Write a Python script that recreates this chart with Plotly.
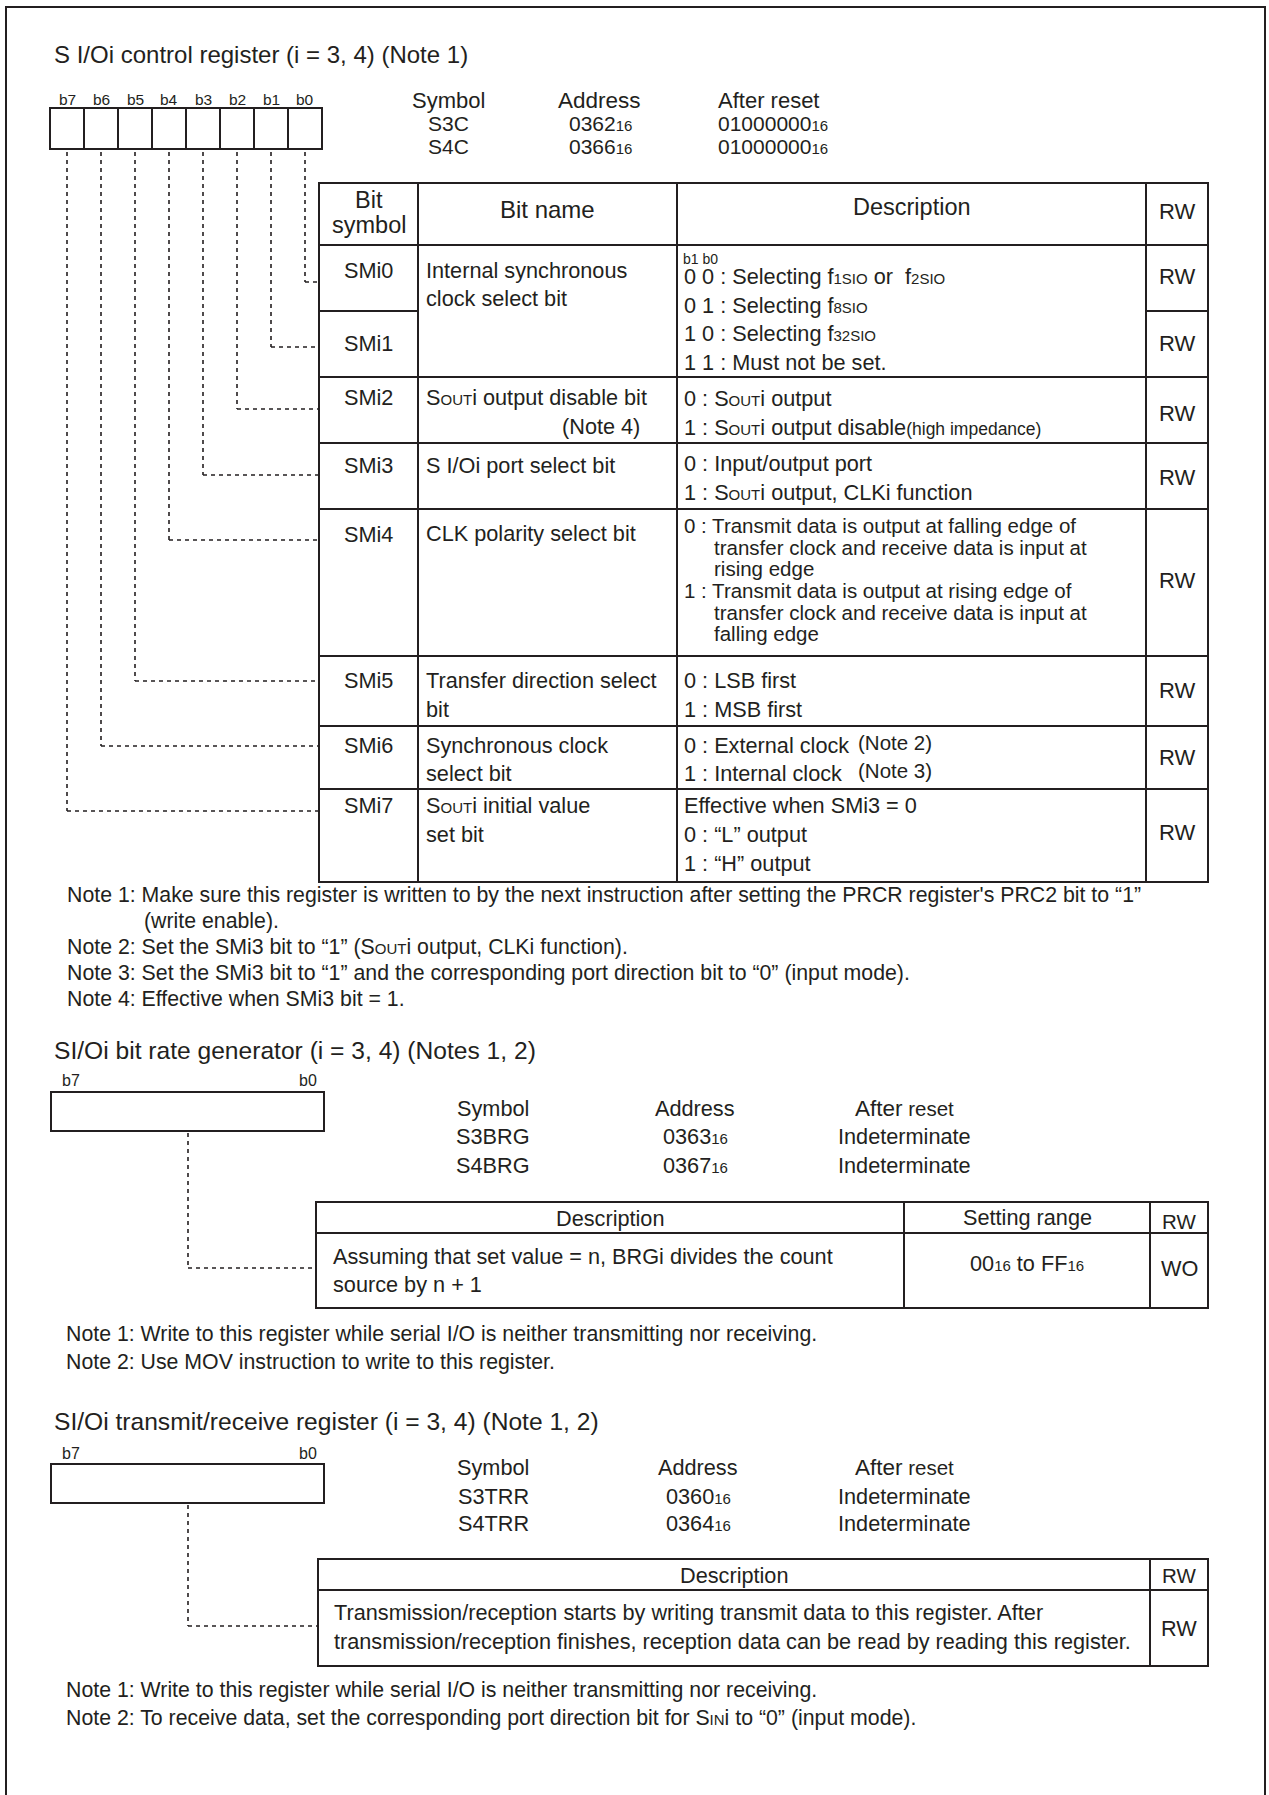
import plotly.graph_objects as go

# The figure fills the whole 1269x1795 page; data units equal page pixels.
PAGE_W, PAGE_H = 1269, 1795
FONT = "Liberation Sans, Arial, Helvetica, sans-serif"
INK = "#231f20"
BODY = 21.7
NOTE = 21.3


def small(t, s=15):
    return f'<span style="font-size:{s}px">{t}</span>'


SOUT = "S" + small("OUT") + "i"
SIN = "S" + small("IN") + "i"
H16 = small("16")

# ---------------- content (text data) ----------------
title1 = "S I/Oi control register (i = 3, 4) (Note 1)"
title2 = "SI/Oi bit rate generator (i = 3, 4) (Notes 1, 2)"
title3 = "SI/Oi transmit/receive register (i = 3, 4) (Note 1, 2)"

bit_labels = ["b7", "b6", "b5", "b4", "b3", "b2", "b1", "b0"]

reg1_symbols = ["S3C", "S4C"]
reg1_addresses = ["0362", "0366"]
reg1_resets = ["01000000", "01000000"]

reg2_symbols = ["S3BRG", "S4BRG"]
reg2_addresses = ["0363", "0367"]
reg2_resets = ["Indeterminate", "Indeterminate"]

reg3_symbols = ["S3TRR", "S4TRR"]
reg3_addresses = ["0360", "0364"]
reg3_resets = ["Indeterminate", "Indeterminate"]

bit_symbols = ["SMi0", "SMi1", "SMi2", "SMi3", "SMi4", "SMi5", "SMi6", "SMi7"]
rw_values = ["RW", "RW", "RW", "RW", "RW", "RW", "RW", "RW"]

bit_names = [
    ["Internal synchronous", "clock select bit"],
    [SOUT + " output disable bit"],
    ["S I/Oi port select bit"],
    ["CLK polarity select bit"],
    ["Transfer direction select", "bit"],
    ["Synchronous clock", "select bit"],
    [SOUT + " initial value", "set bit"],
]

desc_smi01 = [
    "0 0 : Selecting f" + small("1SIO") + " or  f" + small("2SIO"),
    "0 1 : Selecting f" + small("8SIO"),
    "1 0 : Selecting f" + small("32SIO"),
    "1 1 : Must not be set.",
]
desc_smi2 = ["0 : " + SOUT + " output",
             "1 : " + SOUT + " output disable" + small("(high impedance)", 17.5)]
desc_smi3 = ["0 : Input/output port", "1 : " + SOUT + " output, CLKi function"]
desc_smi4 = [
    ("0 : Transmit data is output at falling edge of", 0),
    ("transfer clock and receive data is input at", 1),
    ("rising edge", 1),
    ("1 : Transmit data is output at rising edge of", 0),
    ("transfer clock and receive data is input at", 1),
    ("falling edge", 1),
]
desc_smi5 = ["0 : LSB first", "1 : MSB first"]
desc_smi6 = ["0 : External clock", "1 : Internal clock"]
desc_smi6_notes = ["(Note 2)", "(Note 3)"]
desc_smi7 = ["Effective when SMi3 = 0", "0 : \u201cL\u201d output", "1 : \u201cH\u201d output"]

notes1 = [
    ("Note 1: Make sure this register is written to by the next instruction after setting the PRCR register's PRC2 bit to \u201c1\u201d", 0),
    ("(write enable).", 1),
    ("Note 2: Set the SMi3 bit to \u201c1\u201d (" + SOUT + " output, CLKi function).", 0),
    ("Note 3: Set the SMi3 bit to \u201c1\u201d and the corresponding port direction bit to \u201c0\u201d (input mode).", 0),
    ("Note 4: Effective when SMi3 bit = 1.", 0),
]
brg_desc = ["Assuming that set value = n, BRGi divides the count", "source by n + 1"]
brg_range = "00" + H16 + " to FF" + H16
brg_rw = "WO"
notes2 = [
    "Note 1: Write to this register while serial I/O is neither transmitting nor receiving.",
    "Note 2: Use MOV instruction to write to this register.",
]
trr_desc = [
    "Transmission/reception starts by writing transmit data to this register. After",
    "transmission/reception finishes, reception data can be read by reading this register.",
]
trr_rw = "RW"
notes3 = [
    "Note 1: Write to this register while serial I/O is neither transmitting nor receiving.",
    "Note 2: To receive data, set the corresponding port direction bit for " + SIN + " to \u201c0\u201d (input mode).",
]

# ---------------- drawing helpers ----------------
shapes = []
annotations = []


def text(x, y, s, size=BODY, xa="left", ya="middle"):
    annotations.append(dict(x=x, y=y, text=s, showarrow=False, xanchor=xa, yanchor=ya,
                            xref="x", yref="y", borderpad=0,
                            font=dict(size=size, family=FONT, color=INK)))


def line(x0, y0, x1, y1, w=2, dash=None):
    ln = dict(color=INK, width=w)
    if dash:
        ln["dash"] = dash
    shapes.append(dict(type="line", x0=x0, y0=y0, x1=x1, y1=y1, xref="x", yref="y", line=ln))


def rect(x0, y0, x1, y1, w=2):
    shapes.append(dict(type="rect", x0=x0, y0=y0, x1=x1, y1=y1, xref="x", yref="y",
                       line=dict(color=INK, width=w), fillcolor="rgba(0,0,0,0)"))


DASH = "4px,4px"

# outer frame
rect(6, 7, 1265, 1805, 2)

# ================= Section 1 =================
text(53, 54, title1, 24)
for i, lab in enumerate(bit_labels):
    text(67 + 34 * i, 99, lab, 15.5, "center")
    rect(50 + 34 * i, 108, 84 + 34 * i, 149, 2)

text(448, 100, "Symbol", 22, "center")
text(599, 100, "Address", 22.5, "center")
text(717, 100, "After reset", 22, "left")
for k in range(2):
    yy = 123 + 23 * k
    text(448, yy, reg1_symbols[k], 21, "center")
    text(600, yy, reg1_addresses[k] + H16, 21, "center")
    text(717, yy, reg1_resets[k] + H16, 21, "left")

X1 = [319, 418, 677, 1146, 1208]
Y1 = [183, 245, 311, 377, 443, 509, 656, 726, 789, 882]
rect(X1[0], Y1[0], X1[-1], Y1[-1])
for x in X1[1:-1]:
    line(x, Y1[0], x, Y1[-1])
for k, y in enumerate(Y1[1:-1], start=1):
    if k == 2:
        line(X1[0], y, X1[1], y)
        line(X1[3], y, X1[4], y)
    else:
        line(X1[0], y, X1[-1], y)

# header
cx_sym = (X1[0] + X1[1]) / 2
text(cx_sym, 200, "Bit", 23.5, "center")
text(cx_sym, 225, "symbol", 23.5, "center")
text((X1[1] + X1[2]) / 2, 209, "Bit name", 24, "center")
text((X1[2] + X1[3]) / 2, 207, "Description", 23.5, "center")
cx_rw = (X1[3] + X1[4]) / 2
text(cx_rw, 211, "RW", 22, "center")

sym_y = [270, 343, 397, 465, 534, 680, 745, 805]
for s, y in zip(bit_symbols, sym_y):
    text(cx_sym, y, s, BODY, "center")

name_y = [[270, 298], [397], [465], [533], [680, 709], [745, 773], [805, 834]]
for lines, ys in zip(bit_names, name_y):
    for t, y in zip(lines, ys):
        text(425, y, t)
text(641, 426, "(Note 4)", BODY, "right")

DX = 683
text(DX - 1, 259, "b1 b0", 14)
for t, y in zip(desc_smi01, [276, 305, 333, 362]):
    text(DX, y, t)
for t, y in zip(desc_smi2, [398, 427]):
    text(DX, y, t)
for t, y in zip(desc_smi3, [463, 492]):
    text(DX, y, t)
for (t, ind), y in zip(desc_smi4, [525, 547, 568, 590, 612, 633]):
    text(DX + 30 * ind, y, t, 20.5)
for t, y in zip(desc_smi5, [680, 709]):
    text(DX, y, t)
for t, n, y in zip(desc_smi6, desc_smi6_notes, [745, 773]):
    text(DX, y, t)
    text(857, y - 3, n, 20.5)
for t, y in zip(desc_smi7, [805, 834, 863]):
    text(DX, y, t)

rw_y = [276, 343, 413, 477, 580, 690, 757, 832]
for r, y in zip(rw_values, rw_y):
    text(cx_rw, y, r, 22, "center")

# dashed connectors bit n -> SMin
conn_y = [282, 347, 409, 475, 540, 681, 746, 811]
for n, cy in enumerate(conn_y):
    x = 305 - 34 * n
    line(x, 152, x, cy, 1.6, DASH)
    line(x, cy, X1[0], cy, 1.6, DASH)

for (t, ind), y in zip(notes1, [895, 921, 947, 973, 999]):
    text(143 if ind else 66, y, t, NOTE)

# ================= Section 2 =================
text(53, 1050, title2, 24.6)
text(71, 1080, bit_labels[0], 16, "center")
text(308, 1080, bit_labels[-1], 16, "center")
rect(51, 1092, 324, 1131)

text(493, 1108, "Symbol", BODY, "center")
text(695, 1108, "Address", BODY, "center")
text(904, 1108, "After" + small(" reset", 20.5), 22.5, "center")
for k in range(2):
    yy = 1136 + 29 * k
    text(493, yy, reg2_symbols[k], BODY, "center")
    text(695, yy, reg2_addresses[k] + H16, BODY, "center")
    text(904, yy, reg2_resets[k], BODY, "center")

X2 = [316, 904, 1150, 1208]
Y2 = [1202, 1233, 1308]
rect(X2[0], Y2[0], X2[-1], Y2[-1])
for x in X2[1:-1]:
    line(x, Y2[0], x, Y2[-1])
line(X2[0], Y2[1], X2[-1], Y2[1])
text((X2[0] + X2[1]) / 2, 1218, "Description", BODY, "center")
text((X2[1] + X2[2]) / 2, 1217, "Setting range", BODY, "center")
text((X2[2] + X2[3]) / 2, 1221, "RW", 20.5, "center")
for t, y in zip(brg_desc, [1256, 1284]):
    text(332, y, t)
text((X2[1] + X2[2]) / 2, 1263, brg_range, BODY, "center")
text((X2[2] + X2[3]) / 2, 1268, brg_rw, BODY, "center")

line(188, 1133, 188, 1268, 1.6, DASH)
line(188, 1268, X2[0], 1268, 1.6, DASH)

for t, y in zip(notes2, [1334, 1362]):
    text(65, y, t, NOTE)

# ================= Section 3 =================
text(53, 1421, title3, 24.6)
text(71, 1453, bit_labels[0], 16, "center")
text(308, 1453, bit_labels[-1], 16, "center")
rect(51, 1464, 324, 1503)

text(493, 1467, "Symbol", BODY, "center")
text(698, 1467, "Address", BODY, "center")
text(904, 1467, "After" + small(" reset", 20.5), 22.5, "center")
for k in range(2):
    yy = 1496 + 27 * k
    text(493, yy, reg3_symbols[k], BODY, "center")
    text(698, yy, reg3_addresses[k] + H16, BODY, "center")
    text(904, yy, reg3_resets[k], BODY, "center")

X3 = [318, 1150, 1208]
Y3 = [1559, 1590, 1666]
rect(X3[0], Y3[0], X3[-1], Y3[-1])
line(X3[1], Y3[0], X3[1], Y3[-1])
line(X3[0], Y3[1], X3[-1], Y3[1])
text((X3[0] + X3[1]) / 2, 1575, "Description", BODY, "center")
text((X3[1] + X3[2]) / 2, 1575, "RW", 20.5, "center")
for t, y in zip(trr_desc, [1612, 1641]):
    text(333, y, t)
text((X3[1] + X3[2]) / 2, 1628, trr_rw, BODY, "center")

line(188, 1505, 188, 1626, 1.6, DASH)
line(188, 1626, X3[0], 1626, 1.6, DASH)

for t, y in zip(notes3, [1690, 1718]):
    text(65, y, t, NOTE)

fig = go.Figure()
fig.update_layout(
    width=PAGE_W, height=PAGE_H,
    margin=dict(l=0, r=0, t=0, b=0),
    paper_bgcolor="white", plot_bgcolor="white",
    xaxis=dict(range=[0, PAGE_W], visible=False, fixedrange=True),
    yaxis=dict(range=[PAGE_H, 0], visible=False, fixedrange=True),
    shapes=shapes, annotations=annotations, showlegend=False,
)
# remove the default page margin so the figure sits at the page origin
fig.write_html(
    "out.html",
    config={"displayModeBar": False, "displaylogo": False, "staticPlot": True},
    post_script=("document.body.style.margin='0';"
                 "document.body.style.overflow='hidden';"
                 "document.documentElement.style.overflow='hidden';"),
)
